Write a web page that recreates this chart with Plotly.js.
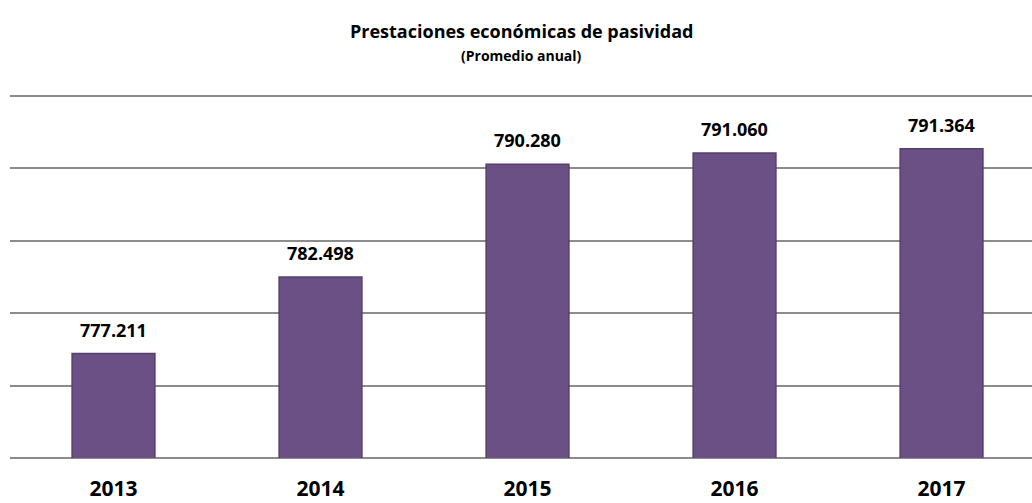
<!DOCTYPE html>
<html>
<head>
<meta charset="utf-8">
<script src="https://cdn.plot.ly/plotly-3.0.1.min.js"></script>
<style>html,body{margin:0;padding:0;background:#fff;}#chart{width:1032px;height:503px;}</style>
</head>
<body>
<div id="chart"></div>
<script>
const years = ['2013', '2014', '2015', '2016', '2017'];
const values = [777211, 782498, 790280, 791060, 791364];
const chartTitle = 'Prestaciones económicas de pasividad';
const chartSubtitle = '(Promedio anual)';

const fontFam = '"Open Sans", "Liberation Sans", sans-serif';

function fmt(v) {
  return String(Math.round(v)).replace(/\B(?=(\d{3})+(?!\d))/g, '.');
}

const trace = {
  type: 'bar',
  x: years,
  y: values,
  marker: { color: '#6a5084', line: { color: '#54406b', width: 1.5 } },
  hoverinfo: 'none'
};

const annotations = [
  { text: '<b>' + chartTitle + '</b>', xref: 'paper', yref: 'paper', x: 0.5, y: 1, yshift: 65, showarrow: false, font: { family: fontFam, size: 18, color: '#000' }, xanchor: 'center', yanchor: 'middle' },
  { text: '<b>' + chartSubtitle + '</b>', xref: 'paper', yref: 'paper', x: 0.5, y: 1, yshift: 41, showarrow: false, font: { family: fontFam, size: 14, color: '#000' }, xanchor: 'center', yanchor: 'middle' }
];
for (let i = 0; i < years.length; i++) {
  annotations.push({
    x: i, y: values[i], xref: 'x', yref: 'y', yshift: 24,
    text: '<b>' + fmt(values[i]) + '</b>',
    showarrow: false, xanchor: 'center', yanchor: 'middle',
    font: { family: fontFam, size: 18, color: '#000' }
  });
}

const layout = {
  width: 1032, height: 503,
  margin: { l: 10, r: 0, t: 96, b: 45 },
  paper_bgcolor: '#fff', plot_bgcolor: '#fff',
  showlegend: false,
  bargap: 0.6,
  xaxis: {
    type: 'category',
    range: [-0.5, 4.437],
    showgrid: false, zeroline: false,
    showline: false,
    ticks: 'outside', ticklen: 12, tickcolor: 'rgba(0,0,0,0)',
    tickfont: { family: fontFam, size: 21, color: '#000', weight: 'bold' },
    fixedrange: true
  },
  yaxis: {
    range: [770000, 795000],
    dtick: 5000, tick0: 770000,
    showgrid: true, gridcolor: '#8c8c8c', gridwidth: 2,
    showticklabels: false, zeroline: false, ticks: '',
    fixedrange: true
  },
  shapes: [
    { type: 'line', xref: 'paper', yref: 'paper', x0: 0, x1: 1, y0: 1, y1: 1, line: { color: '#8c8c8c', width: 2 }, layer: 'below' },
    { type: 'line', xref: 'paper', yref: 'paper', x0: 0, x1: 1, y0: 0, y1: 0, line: { color: '#8c8c8c', width: 2 }, layer: 'below' }
  ],
  annotations: annotations
};

Plotly.newPlot('chart', [trace], layout, { displayModeBar: false, staticPlot: true });
</script>
</body>
</html>
